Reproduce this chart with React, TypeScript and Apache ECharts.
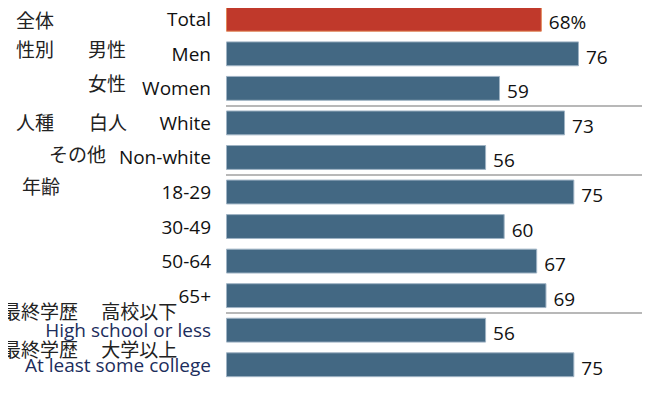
import React, { useEffect, useRef } from "react";
import * as echarts from "echarts";

const categories = [
  "Total",
  "Men",
  "Women",
  "White",
  "Non-white",
  "18-29",
  "30-49",
  "50-64",
  "65+",
  "High school or less",
  "At least some college",
];
const values = [68, 76, 59, 73, 56, 75, 60, 67, 69, 56, 75];
const groupStartIndex = [1, 3, 5, 9];
const navyLabels = ["High school or less", "At least some college"];
const jpLabels = [
  { text: "全体", x: 16, y: 19 },
  { text: "性別", x: 16, y: 48 },
  { text: "男性", x: 88, y: 48 },
  { text: "女性", x: 88, y: 82 },
  { text: "人種", x: 16, y: 121 },
  { text: "白人", x: 89, y: 121 },
  { text: "その他", x: 49, y: 153 },
  { text: "年齢", x: 22, y: 185 },
  { text: "最終学歴　 高校以下", x: 2, y: 310 },
  { text: "最終学歴　 大学以上", x: 2, y: 348.5 },
];

export default function App() {
  const ref = useRef<HTMLDivElement>(null);
  useEffect(() => {
    if (!ref.current) return;
    const chart = echarts.init(ref.current, null, { renderer: "svg" });
    chart.setOption({
      animation: false,
      grid: { left: 226, right: 6, top: 2, bottom: 12 },
      xAxis: {
        type: "value",
        min: 0,
        max: 90,
        show: false,
      },
      yAxis: {
        type: "category",
        inverse: true,
        data: categories,
        axisLine: { show: false },
        axisTick: { show: false },
        splitLine: {
          show: true,
          showMinLine: false,
          showMaxLine: false,
          interval: (index: number) => groupStartIndex.includes(index),
          lineStyle: { color: "#a0a0a0", width: 1.5 },
        },
        axisLabel: {
          margin: 15,
          formatter: (v: string) => (navyLabels.includes(v) ? `{n|${v}}` : `{b|${v}}`),
          rich: {
            b: { color: "#111", fontSize: 19, lineHeight: 18, fontFamily: "Open Sans" },
            n: { color: "#1c2d5c", fontSize: 19, lineHeight: 18, fontFamily: "Open Sans" },
          },
        },
      },
      graphic: jpLabels.map((l) => ({
        type: "text",
        x: l.x,
        y: l.y,
        style: {
          text: l.text,
          fontSize: 19,
          lineHeight: 17,
          fontFamily: "Noto Sans CJK JP",
          fill: "#222",
          verticalAlign: "middle",
        },
      })),
      series: [
        {
          type: "bar",
          data: values.map((v, i) => ({
            value: v,
            itemStyle:
              i === 0
                ? { color: "#c0392b", borderColor: "#e2885a", borderWidth: 1 }
                : { color: "#436883", borderColor: "#9fb3c4", borderWidth: 1 },
          })),
          barCategoryGap: "28%",
          label: {
            show: true,
            position: "right",
            distance: 7,
            offset: [0, 3],
            fontSize: 19,
            fontFamily: "Open Sans",
            color: "#111",
            formatter: (p: any) => (p.dataIndex === 0 ? `${p.value}%` : `${p.value}`),
          },
        },
      ],
    });
    return () => chart.dispose();
  }, []);
  return <div ref={ref} style={{ width: 650, height: 394, margin: -8 }} />;
}
